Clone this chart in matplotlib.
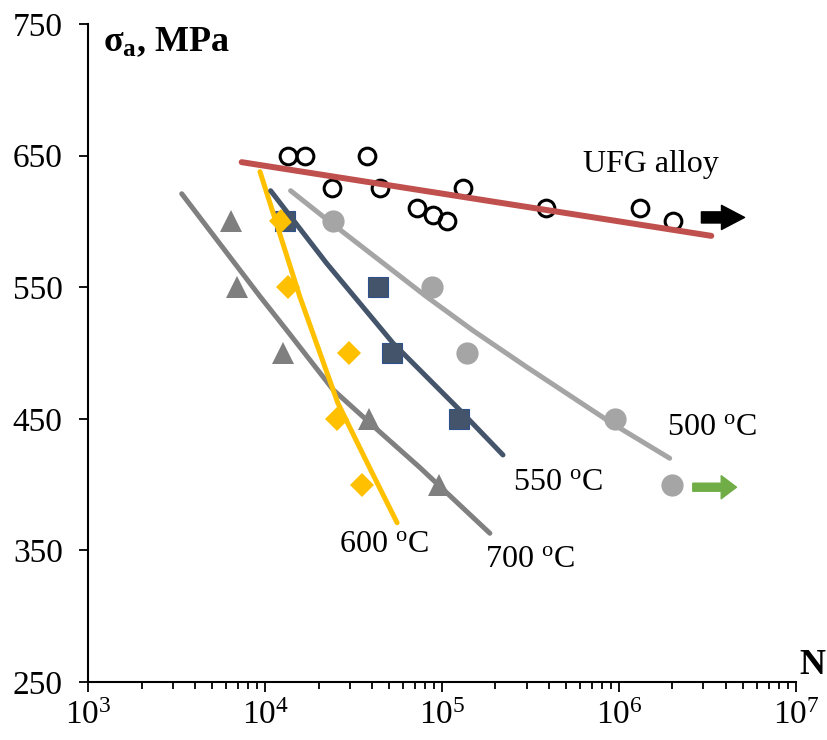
import numpy as np
import matplotlib
matplotlib.use("Agg")
import matplotlib.pyplot as plt
from matplotlib.ticker import LogLocator, NullFormatter, FixedLocator

plt.rcParams['font.family'] = ['Liberation Serif', 'DejaVu Serif']
plt.rcParams['mathtext.fontset'] = 'custom'
plt.rcParams['mathtext.rm'] = 'Liberation Serif'
plt.rcParams['mathtext.it'] = 'Liberation Serif:italic'
plt.rcParams['mathtext.bf'] = 'Liberation Serif:bold'

# ---- data ----
# UFG alloy (open circles) and its trend line
ufg_N = [13500, 16800, 23700, 37800, 44400, 71600, 88900, 106600, 131000, 388000, 1306000, 2020000]
ufg_s = [650, 650, 625, 650, 625, 610, 605, 600, 625, 610, 610, 600]
ufg_fit_N = [7350, 3320000]
ufg_fit_s = [645, 589]

# 500 C (grey circles)
t500_N = [24100, 87100, 139000, 944000, 2000000]
t500_s = [600, 550, 500, 450, 400]
t500_fit_N = [13900, 23700, 81500, 149500, 299000, 925000, 1932000]
t500_fit_s = [623.3, 598.6, 542.8, 517.0, 489.5, 446.0, 420.0]

# 550 C (navy squares)
t550_N = [12900, 43500, 52100, 124000]
t550_s = [600, 550, 500, 450]
t550_fit_N = [10720, 22200, 52800, 125600, 220600]
t550_fit_s = [623.3, 568.2, 507.4, 456.7, 422.5]

# 600 C (gold diamonds)
t600_N = [12250, 13460, 29800, 25500, 35200]
t600_s = [600, 550, 500, 450, 400]
t600_fit_N = [9330, 15670, 25700, 39000, 55600]
t600_fit_s = [637.8, 542.8, 462.0, 412.4, 371.0]

# 700 C (grey triangles)
t700_N = [6370, 6890, 12620, 38600, 95900]
t700_s = [600, 550, 500, 450, 400]
t700_fit_N = [3370, 9330, 13180, 24200, 44400, 74700, 186000]
t700_fit_s = [621, 543, 517.5, 472, 440, 413, 363]

yticks = [250, 350, 450, 550, 650, 750]

fig = plt.figure(figsize=(8.27, 7.40), dpi=100)
ax = fig.add_axes([0.1069, 0.0784, 0.8556, 0.8892])

# markers
ax.plot(t700_N, t700_s, '^', color='#7F7F7F', ms=16, mew=0, zorder=2)
ax.plot(t550_N, t550_s, 's', color='#44546A', mec='#2F528F', ms=15, mew=0.8, zorder=2)
ax.plot(t600_N, t600_s, 'D', color='#FFC000', ms=12, mew=0, zorder=2)
ax.plot(t500_N, t500_s, 'o', color='#A5A5A5', ms=16, mew=0, zorder=2)
ax.plot(ufg_N, ufg_s, 'o', mfc='none', mec='black', ms=12, mew=2.2, zorder=2)

# trend lines
lw = 3.6
ax.plot(t700_fit_N, t700_fit_s, color='#808080', lw=lw, solid_capstyle='round', solid_joinstyle='round', zorder=3)
ax.plot(t600_fit_N, t600_fit_s, color='#FFC000', lw=lw, solid_capstyle='round', solid_joinstyle='round', zorder=3)
ax.plot(t550_fit_N, t550_fit_s, color='#44546A', lw=lw, solid_capstyle='round', solid_joinstyle='round', zorder=3)
ax.plot(t500_fit_N, t500_fit_s, color='#A5A5A5', lw=lw, solid_capstyle='round', solid_joinstyle='round', zorder=3)
ax.plot(ufg_fit_N, ufg_fit_s, color='#C0504D', lw=4.3, solid_capstyle='round', zorder=3)

# run-out arrows
ax.annotate('', xy=(5.12e6, 603), xytext=(2.92e6, 603),
            arrowprops=dict(arrowstyle='simple,head_length=0.83,head_width=0.87,tail_width=0.4',
                            color='black', shrinkA=0, shrinkB=0, mutation_scale=20))
ax.annotate('', xy=(4.61e6, 398), xytext=(2.61e6, 398),
            arrowprops=dict(arrowstyle='simple,head_length=0.55,head_width=0.83,tail_width=0.29',
                            color='#70AD47', shrinkA=0, shrinkB=0, mutation_scale=20))

# curve labels
fs = 23
ax.text(622000, 637.5, 'UFG alloy', fontsize=fs, ha='left', va='baseline')
ax.text(1866000, 437.7, '500 $^{\\rm o}$C', fontsize=fs, ha='left', va='baseline')
ax.text(252000, 395.9, '550 $^{\\rm o}$C', fontsize=fs, ha='left', va='baseline')
ax.text(26200, 349.0, '600 $^{\\rm o}$C', fontsize=fs, ha='left', va='baseline')
ax.text(174000, 337.6, '700 $^{\\rm o}$C', fontsize=fs, ha='left', va='baseline')

# axes
ax.set_xscale('log')
ax.set_xlim(1e3, 1e7)
ax.set_ylim(250, 750)
ax.yaxis.set_major_locator(FixedLocator(yticks))
ax.xaxis.set_major_locator(LogLocator(base=10, numticks=10))
ax.xaxis.set_minor_locator(LogLocator(base=10, subs=np.arange(2, 10), numticks=20))
ax.xaxis.set_minor_formatter(NullFormatter())
for s in ['top', 'right']:
    ax.spines[s].set_visible(False)
for s in ['left', 'bottom']:
    ax.spines[s].set_linewidth(1.5)
ax.tick_params(axis='y', which='major', direction='out', length=6.5, width=1.3, labelsize=24, pad=12)
ax.tick_params(axis='x', which='major', direction='out', length=7, width=1.3, labelsize=24, pad=6)
ax.tick_params(axis='x', which='minor', direction='out', length=5, width=1.3)

fig.text(0.1245, 0.943, 'σ$_\\mathbf{a}$, MPa', fontsize=26, fontweight='bold', ha='left', va='center')
fig.text(0.966, 0.101, 'N', fontsize=26, fontweight='bold', ha='left', va='center')

fig.savefig('out.png', dpi=100)
